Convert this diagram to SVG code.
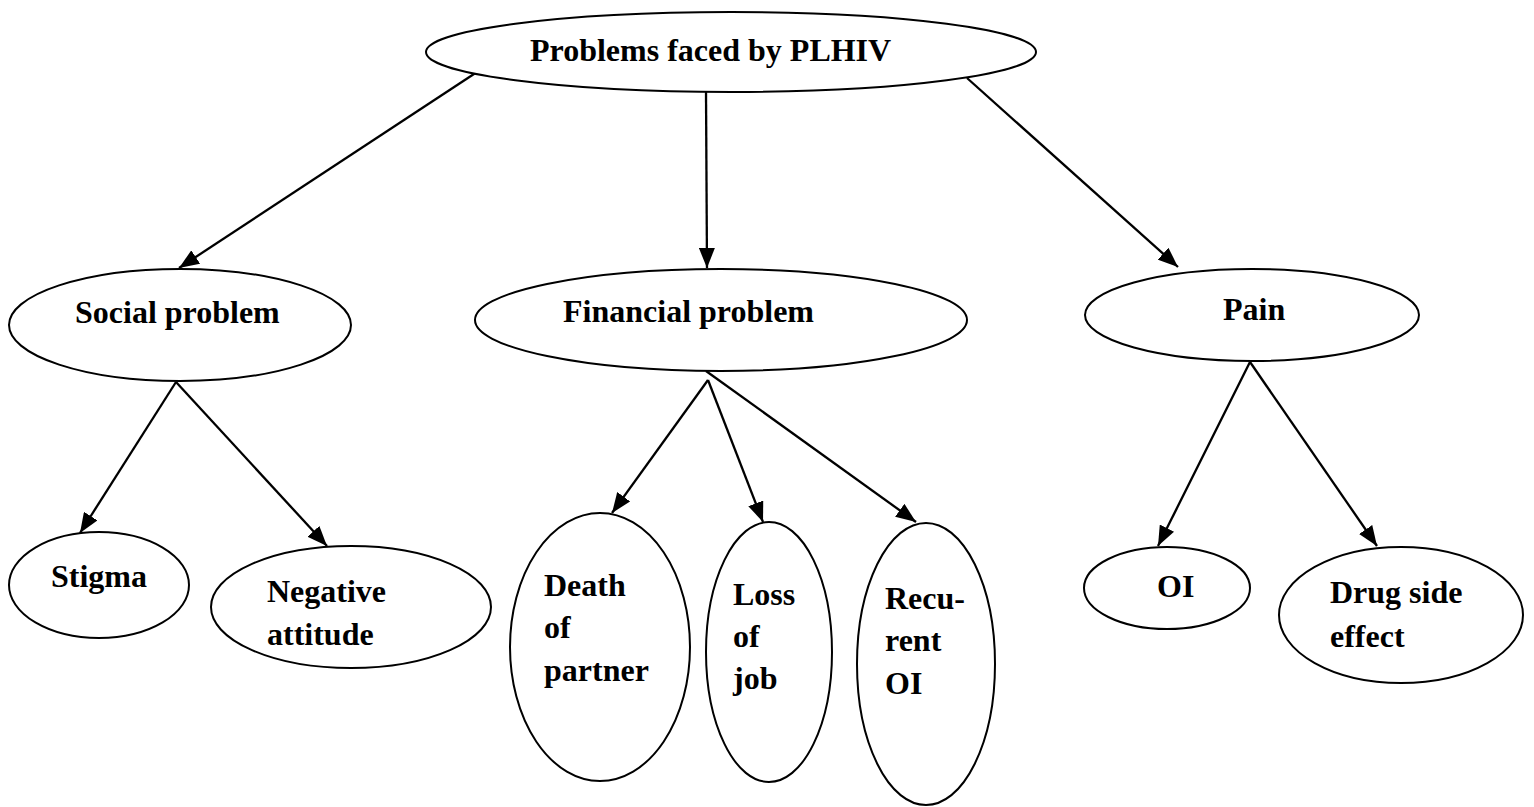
<svg xmlns="http://www.w3.org/2000/svg" width="1534" height="807" viewBox="0 0 1534 807">
<style>
.n ellipse{fill:#fff;stroke:#000;stroke-width:2}
.n text{font-family:"Liberation Serif","Times New Roman",serif;font-weight:bold;font-size:32px;fill:#000}
.c line{stroke:#000;stroke-width:2.3;marker-end:url(#ah)}
</style>
<defs>
<marker id="ah" markerUnits="userSpaceOnUse" markerWidth="20" markerHeight="16" refX="20" refY="8" orient="auto">
<path d="M0,0 L20,8 L0,16 z" fill="#000"/>
</marker>
</defs>
<rect width="1534" height="807" fill="#fff"/>
<g class="c" id="connectors">
<line x1="477" y1="72" x2="179" y2="268"/>
<line x1="706" y1="92" x2="707" y2="268"/>
<line x1="967" y1="78" x2="1178" y2="267"/>
<line x1="176" y1="382" x2="80" y2="533"/>
<line x1="176" y1="382" x2="327" y2="546"/>
<line x1="708" y1="380" x2="612" y2="513"/>
<line x1="708" y1="380" x2="763" y2="522"/>
<line x1="706" y1="371" x2="916" y2="522"/>
<line x1="1250" y1="362" x2="1158" y2="546"/>
<line x1="1250" y1="362" x2="1377" y2="546"/>
</g>
<g class="n" id="root"><ellipse cx="731" cy="52" rx="305" ry="40"/><text x="530" y="61">Problems faced by PLHIV</text></g>
<g class="n" id="social"><ellipse cx="180" cy="325" rx="171" ry="56"/><text x="75" y="323">Social problem</text></g>
<g class="n" id="financial"><ellipse cx="721" cy="320" rx="246" ry="51"/><text x="563" y="322">Financial problem</text></g>
<g class="n" id="pain"><ellipse cx="1252" cy="315" rx="167" ry="46"/><text x="1223" y="320">Pain</text></g>
<g class="n" id="stigma"><ellipse cx="99" cy="585" rx="90" ry="53"/><text x="51" y="587">Stigma</text></g>
<g class="n" id="negative"><ellipse cx="351" cy="607" rx="140" ry="61"/><text x="267" y="602">Negative</text><text x="267" y="645">attitude</text></g>
<g class="n" id="death"><ellipse cx="600" cy="647" rx="90" ry="134"/><text x="544" y="596">Death</text><text x="544" y="638">of</text><text x="544" y="681">partner</text></g>
<g class="n" id="loss"><ellipse cx="769" cy="652" rx="63" ry="130"/><text x="733" y="605">Loss</text><text x="733" y="647">of</text><text x="733" y="689">job</text></g>
<g class="n" id="recurent"><ellipse cx="926" cy="664" rx="69" ry="141"/><text x="885" y="609">Recu-</text><text x="885" y="651">rent</text><text x="885" y="694">OI</text></g>
<g class="n" id="oi"><ellipse cx="1167" cy="588" rx="83" ry="41"/><text x="1157" y="597">OI</text></g>
<g class="n" id="drug"><ellipse cx="1401" cy="615" rx="122" ry="68"/><text x="1330" y="603">Drug side</text><text x="1330" y="647">effect</text></g>
</svg>
